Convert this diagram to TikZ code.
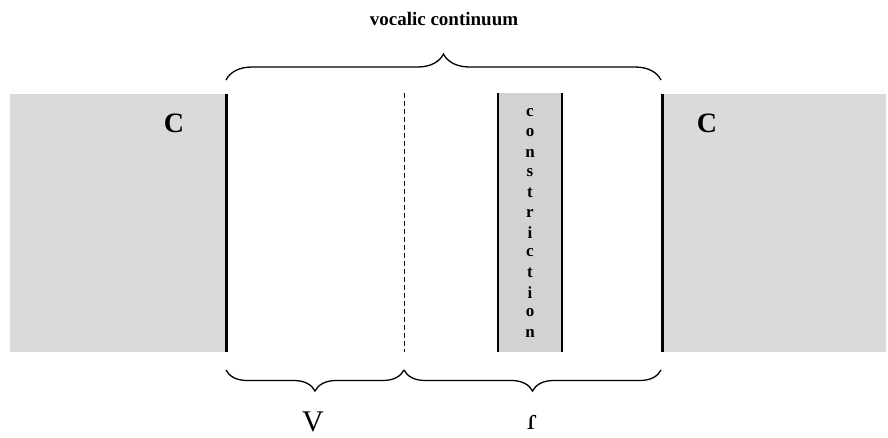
\documentclass[tikz,border=0pt]{standalone}
\usepackage{fontspec}
\setmainfont{Liberation Serif}
\usetikzlibrary{decorations.pathreplacing}
\definecolor{shadegray}{RGB}{218,218,218}
\definecolor{colgray}{RGB}{210,210,210}
\tikzset{
  shadebox/.style={fill=shadegray,draw=none},
  boundary/.style={line width=3pt},
  bracestyle/.style={decorate,decoration={brace,amplitude=#1},line width=1.3pt},
  letter/.style={font=\fontsize{17}{17}\selectfont\bfseries,inner sep=0pt},
  bigC/.style={font=\fontsize{28}{28}\selectfont\bfseries,inner sep=0pt},
  seglabel/.style={font=\fontsize{30}{30}\selectfont,inner sep=0pt}
}
\begin{document}
\begin{tikzpicture}[x=1pt,y=-1pt]
\useasboundingbox (0,0) rectangle (888,437);
% shaded consonant areas
\fill[shadebox] (10,94) rectangle (226,352);
\fill[shadebox] (662,94) rectangle (886,352);
% constriction column
\fill[colgray] (498,93) rectangle (562,352);
\coordinate (ca) at (498,93); \coordinate (cb) at (498,352);
\coordinate (cc) at (562,93); \coordinate (cd) at (562,352);
\draw[line width=1.1pt] (ca) -- (cb);
\draw[line width=1.1pt] (cc) -- (cd);
% boundaries
\coordinate (lt) at (226,94); \coordinate (lb) at (226,352);
\coordinate (rt) at (662,94); \coordinate (rb) at (662,352);
\coordinate (mt) at (404,93); \coordinate (mb) at (404,352);
\draw[boundary] (lt) -- (lb);
\draw[boundary] (rt) -- (rb);
\draw[dashed,line width=0.7pt,dash pattern=on 5pt off 3pt] (mt) -- (mb);
% braces
\coordinate (tb1) at (226,80); \coordinate (tb2) at (661,80);
\draw[bracestyle=26pt] (tb1) -- (tb2);
\coordinate (bl1) at (226,370); \coordinate (bl2) at (404,370);
\coordinate (br2) at (661,370);
\draw[bracestyle=21pt] (bl2) -- (bl1);
\draw[bracestyle=21pt] (br2) -- (bl2);
% texts
\node[font=\fontsize{19}{19}\selectfont\bfseries,inner sep=0pt] (title) at (444,19) {vocalic continuum};
\node[bigC] (c1) at (174,123) {C};
\node[bigC] (c2) at (707,123) {C};
\node[seglabel] (v) at (313,422) {V};
\node[seglabel] (tap) at (532,422) {ɾ};
\foreach \l [count=\i from 0] in {c,o,n,s,t,r,i,c,t,i,o,n}{
  \node[letter] (L\i) at (530,{113+20*\i}) {\l};
}
\end{tikzpicture}
\end{document}
